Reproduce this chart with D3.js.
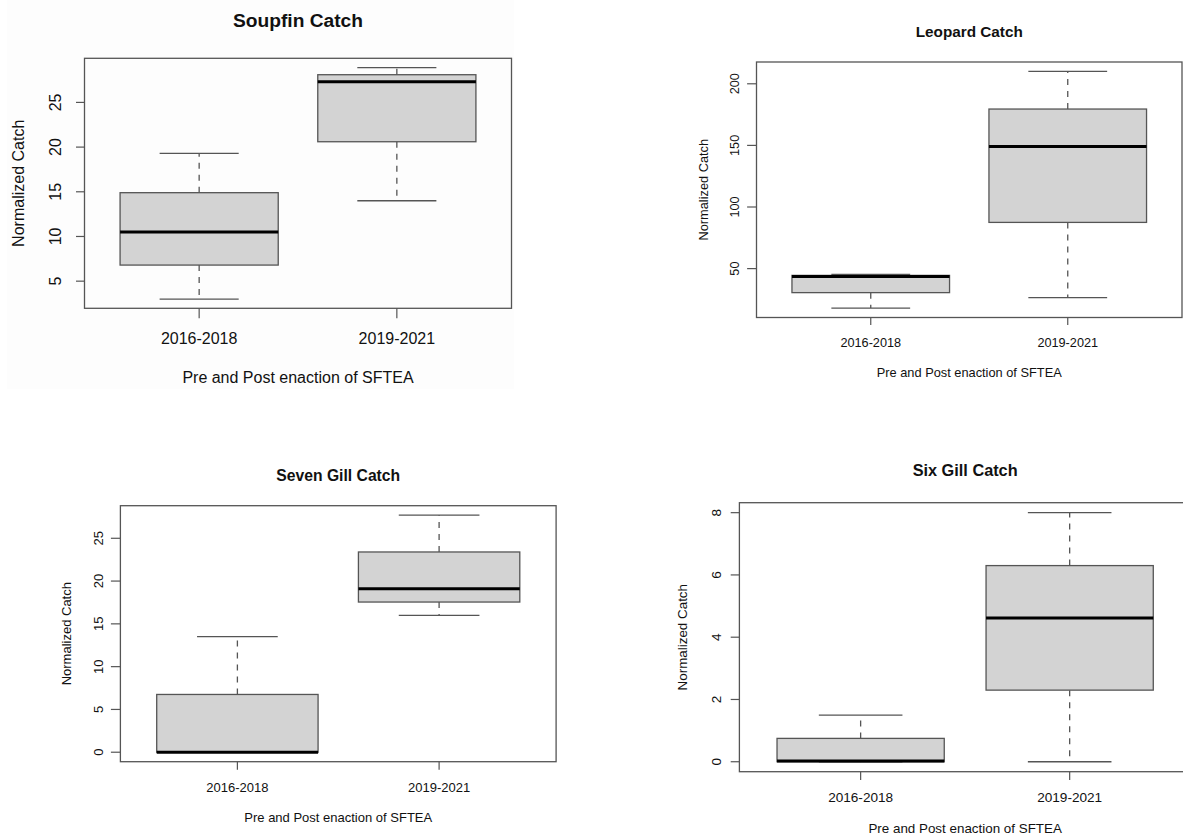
<!DOCTYPE html>
<html>
<head>
<meta charset="utf-8">
<script src="https://cdn.jsdelivr.net/npm/d3@7"></script>
<style>
  html, body { margin: 0; padding: 0; background: #fff; }
  svg { display: block; }
  text { font-family: "Liberation Sans", Arial, Helvetica, sans-serif; fill: #111; }
</style>
</head>
<body>
<svg id="chart" width="1183" height="837"></svg>
<script>
// ---------------- DATA ----------------
const categories = ["2016-2018", "2019-2021"];
const xAxisTitle = "Pre and Post enaction of SFTEA";
const yAxisTitle = "Normalized Catch";

// five-number summaries: [lower whisker, Q1, median, Q3, upper whisker]
const soupfinStats  = [[3.0, 6.8, 10.5, 14.9, 19.3], [14.0, 20.6, 27.3, 28.1, 28.9]];
const leopardStats  = [[18.0, 30.5, 43.5, 44.5, 45.3], [26.5, 87.5, 149.2, 179.5, 210.0]];
const sevenGillStats = [[0, 0, 0, 6.75, 13.5], [16.0, 17.55, 19.1, 23.4, 27.7]];
const sixGillStats  = [[0, 0, 0.02, 0.75, 1.5], [0, 2.3, 4.62, 6.3, 8.0]];

const soupfinTicks   = [5, 10, 15, 20, 25];
const leopardTicks   = [50, 100, 150, 200];
const sevenGillTicks = [0, 5, 10, 15, 20, 25];
const sixGillTicks   = [0, 2, 4, 6, 8];

const titles = ["Soupfin Catch", "Leopard Catch", "Seven Gill Catch", "Six Gill Catch"];

// ---------------- LAYOUT ----------------
const panels = [
  { title: titles[0], stats: soupfinStats, ticks: soupfinTicks,
    frame: { x0: 84.5, x1: 511.5, y0: 58.3, y1: 308.3 },
    titleY: 27, titleSize: 19.2, tickSize: 16, labSize: 16,
    yTickLen: 8.5, yTickLabOff: 23.6, xTickLen: 10, xTickLabY: 344.3,
    xLabY: 383, yLabX: 24, dash: "6,6", bg: { x: 7, y: 0, w: 507, h: 389 } },
  { title: titles[1], stats: leopardStats, ticks: leopardTicks,
    frame: { x0: 756.5, x1: 1182, y0: 62, y1: 317.5 },
    titleY: 36.7, titleSize: 15.3, tickSize: 12.7, labSize: 12.8,
    yTickLen: 9.4, yTickLabOff: 17.5, xTickLen: 7.5, xTickLabY: 346.7,
    xLabY: 376.7, yLabX: 707.5, dash: "6,6" },
  { title: titles[2], stats: sevenGillStats, ticks: sevenGillTicks,
    frame: { x0: 120.4, x1: 556.1, y0: 505.7, y1: 761.7 },
    titleY: 480.7, titleSize: 15.7, tickSize: 13, labSize: 13,
    yTickLen: 9.5, yTickLabOff: 17.4, xTickLen: 8, xTickLabY: 791.7,
    xLabY: 822.3, yLabX: 70.7, dash: "6,6" },
  { title: titles[3], stats: sixGillStats, ticks: sixGillTicks,
    frame: { x0: 739.4, x1: 1190.9, y0: 502.7, y1: 771.7 },
    titleY: 476, titleSize: 16.3, tickSize: 13.6, labSize: 13.4,
    yTickLen: 8.7, yTickLabOff: 18, xTickLen: 8.3, xTickLabY: 801.7,
    xLabY: 833.3, yLabX: 687.4, dash: "6,6" }
];

const svg = d3.select("#chart");
const lineCol = "#555";

panels.forEach(p => {
  const g = svg.append("g");
  const f = p.frame;

  if (p.bg) {
    g.append("rect").attr("x", p.bg.x).attr("y", p.bg.y)
      .attr("width", p.bg.w).attr("height", p.bg.h).attr("fill", "#fdfdfd");
  }

  // x: positions 1..n, domain padded like R
  const x = d3.scaleLinear().domain([0.42, 2.58]).range([f.x0, f.x1]);
  const lo = d3.min(p.stats, s => s[0]);
  const hi = d3.max(p.stats, s => s[4]);
  const pad = (hi - lo) * 0.04;
  const y = d3.scaleLinear().domain([lo - pad, hi + pad]).range([f.y1, f.y0]);

  const boxHalf = 0.4, capHalf = 0.2;

  p.stats.forEach((s, i) => {
    const c = i + 1;
    const [wl, q1, med, q3, wu] = s;
    // whiskers
    g.append("line").attr("x1", x(c)).attr("x2", x(c)).attr("y1", y(q3)).attr("y2", y(wu))
      .attr("stroke", lineCol).attr("stroke-width", 1.3).attr("stroke-dasharray", p.dash);
    g.append("line").attr("x1", x(c)).attr("x2", x(c)).attr("y1", y(q1)).attr("y2", y(wl))
      .attr("stroke", lineCol).attr("stroke-width", 1.3).attr("stroke-dasharray", p.dash);
    // caps
    [wl, wu].forEach(v => {
      g.append("line").attr("x1", x(c - capHalf)).attr("x2", x(c + capHalf))
        .attr("y1", y(v)).attr("y2", y(v))
        .attr("stroke", lineCol).attr("stroke-width", 1.3);
    });
    // box
    g.append("rect").attr("x", x(c - boxHalf)).attr("y", y(q3))
      .attr("width", x(c + boxHalf) - x(c - boxHalf)).attr("height", Math.max(0, y(q1) - y(q3)))
      .attr("fill", "#d3d3d3").attr("stroke", lineCol).attr("stroke-width", 1.3);
    // median
    g.append("line").attr("x1", x(c - boxHalf)).attr("x2", x(c + boxHalf))
      .attr("y1", y(med)).attr("y2", y(med))
      .attr("stroke", "#000").attr("stroke-width", 3);
  });

  // frame
  g.append("rect").attr("x", f.x0).attr("y", f.y0)
    .attr("width", f.x1 - f.x0).attr("height", f.y1 - f.y0)
    .attr("fill", "none").attr("stroke", lineCol).attr("stroke-width", 1.3);

  // y axis ticks & labels
  p.ticks.forEach(v => {
    g.append("line").attr("x1", f.x0 - p.yTickLen).attr("x2", f.x0)
      .attr("y1", y(v)).attr("y2", y(v)).attr("stroke", lineCol).attr("stroke-width", 1.2);
    g.append("text")
      .attr("transform", `translate(${f.x0 - p.yTickLabOff},${y(v)}) rotate(-90)`)
      .attr("text-anchor", "middle").attr("font-size", p.tickSize).text(v);
  });

  // x axis ticks & labels
  categories.forEach((cat, i) => {
    const c = i + 1;
    g.append("line").attr("x1", x(c)).attr("x2", x(c))
      .attr("y1", f.y1).attr("y2", f.y1 + p.xTickLen).attr("stroke", lineCol).attr("stroke-width", 1.2);
    g.append("text").attr("x", x(c)).attr("y", p.xTickLabY)
      .attr("text-anchor", "middle").attr("font-size", p.tickSize).text(cat);
  });

  const cx = (f.x0 + f.x1) / 2, cy = (f.y0 + f.y1) / 2;
  // title
  g.append("text").attr("x", cx).attr("y", p.titleY).attr("text-anchor", "middle")
    .attr("font-size", p.titleSize).attr("font-weight", "bold").text(p.title);
  // axis titles
  g.append("text").attr("x", cx).attr("y", p.xLabY).attr("text-anchor", "middle")
    .attr("font-size", p.labSize).text(xAxisTitle);
  g.append("text").attr("transform", `translate(${p.yLabX},${cy}) rotate(-90)`)
    .attr("text-anchor", "middle").attr("font-size", p.labSize).text(yAxisTitle);
});
</script>
</body>
</html>
